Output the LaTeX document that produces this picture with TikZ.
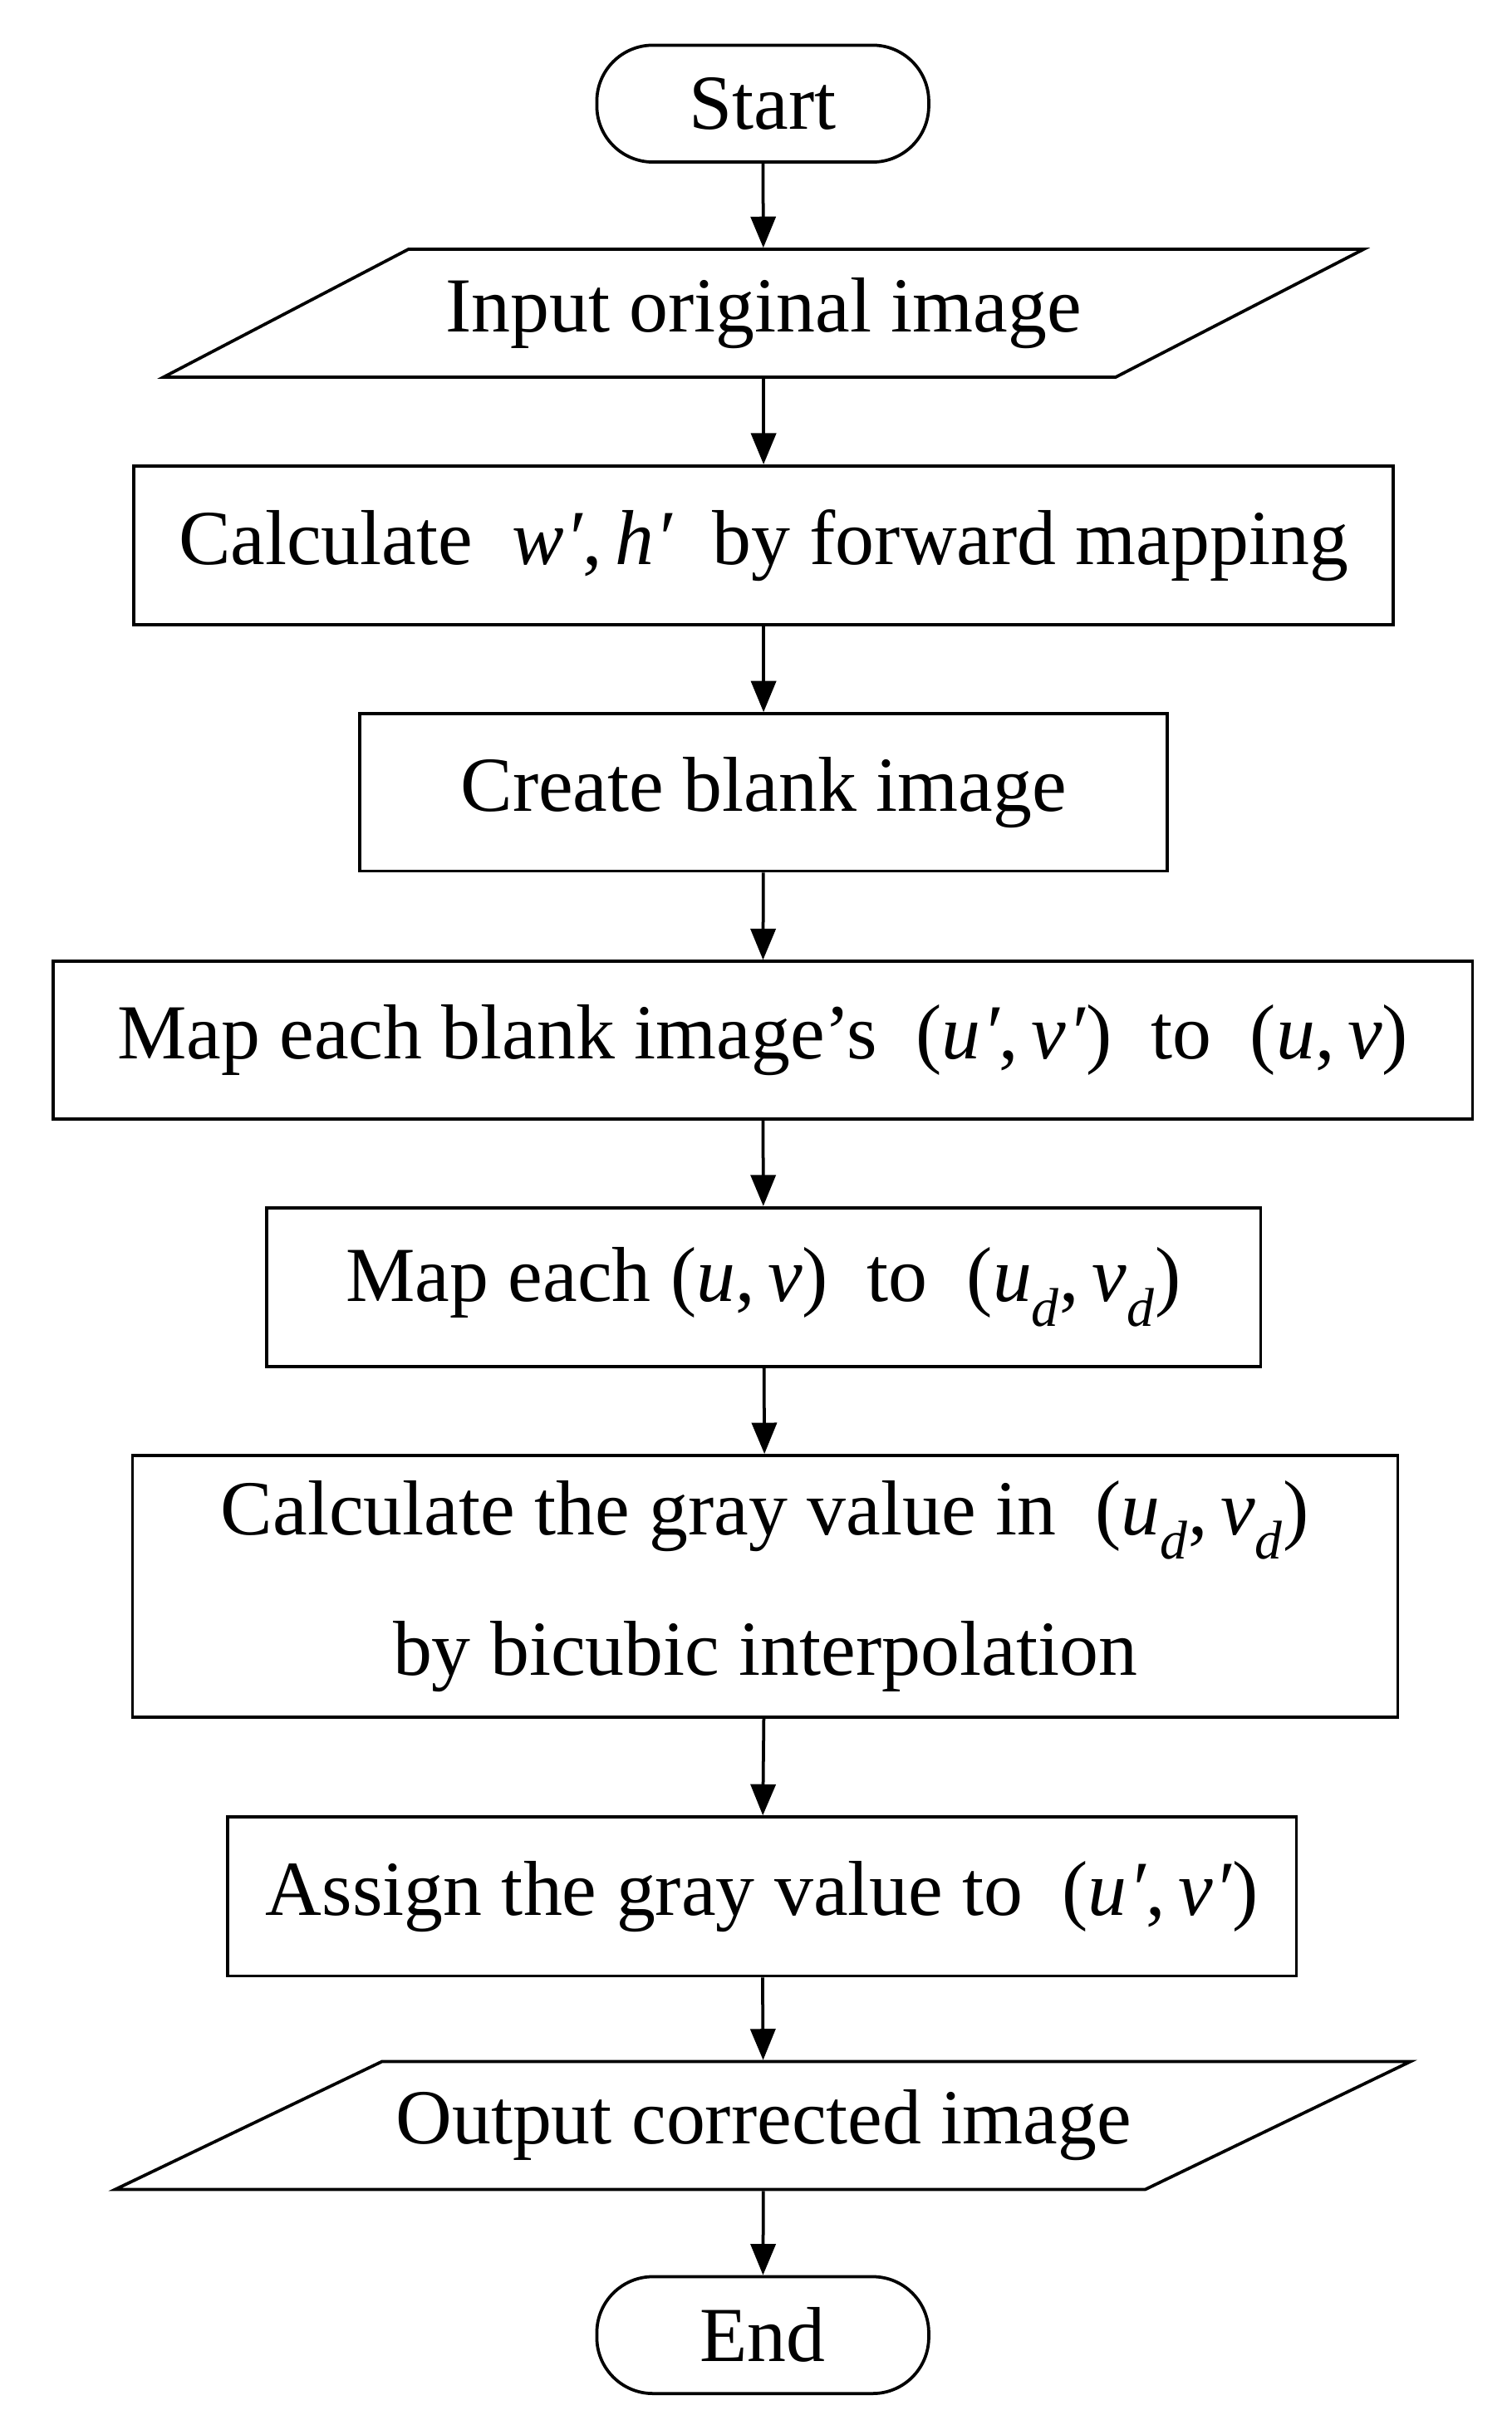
\documentclass[tikz,border=0pt]{standalone}
\usepackage{fontspec}
\setmainfont{Liberation Serif}
\usetikzlibrary{arrows.meta}
\newcommand{\mi}[1]{\textit{#1}}
\newcommand{\pr}{\kern1pt\textit{′}}
\begin{document}
\begin{tikzpicture}[x=1pt,y=-1pt,line width=2pt,
  every node/.style={font=\fontsize{50}{60}\selectfont},
  box/.style={draw,rectangle,inner sep=0pt},
  term/.style={draw,rounded corners=36pt,inner sep=0pt,minimum width=213pt,minimum height=75pt},
  arr/.style={-{Triangle[length=20pt,width=16pt]}}]
\useasboundingbox (0,0) rectangle (970,1553);
\node[term] (s) at (489.5,66.5) {Start};
\draw (262,160) -- (875,160) -- (716,242) -- (105,242) -- cycle;
\node[minimum height=82pt,minimum width=400pt,inner sep=0pt] (in) at (490,201) {Input original image};
\node[box,minimum width=808pt,minimum height=102pt] (c) at (490,350) {Calculate \ \mi{w}\pr,\,\mi{h}\pr\ \ by forward mapping};
\node[box,minimum width=518pt,minimum height=101pt] (cb) at (490,508.5) {Create blank image};
\node[box,minimum width=911pt,minimum height=101pt] (m1) at (489.5,667.5) {Map each blank image’s \ (\mi{u}\pr,\,\mi{v}\pr) \ to \ (\mi{u},\,\mi{v})};
\node[box,minimum width=638pt,minimum height=102pt] (m2) at (490,826) {Map each (\mi{u},\,\mi{v}) \ to \ (\mi{u}\textsubscript{\mi{d}},\,\mi{v}\textsubscript{\mi{d}})};
\node[box,minimum width=812pt,minimum height=168pt,align=center] (g) at (491,1018) {Calculate the gray value in \ (\mi{u}\textsubscript{\mi{d}},\,\mi{v}\textsubscript{\mi{d}})\\[30pt] by bicubic interpolation};
\node[box,minimum width=686pt,minimum height=102pt] (a) at (489,1217) {Assign the gray value to \ (\mi{u}\pr,\,\mi{v}\pr)};
\draw (245,1323) -- (905,1323) -- (735,1405) -- (74,1405) -- cycle;
\node[minimum height=82pt,minimum width=400pt,inner sep=0pt] (o) at (490,1364) {Output corrected image};
\node[term] (e) at (489.5,1498.5) {End};
\draw[arr] (s) -- (in);
\draw[arr] (in) -- (c);
\draw[arr] (c) -- (cb);
\draw[arr] (cb) -- (m1);
\draw[arr] (m1) -- (m2);
\draw[arr] (m2) -- (g);
\draw[arr] (g) -- (a);
\draw[arr] (a) -- (o);
\draw[arr] (o) -- (e);
\end{tikzpicture}
\end{document}
